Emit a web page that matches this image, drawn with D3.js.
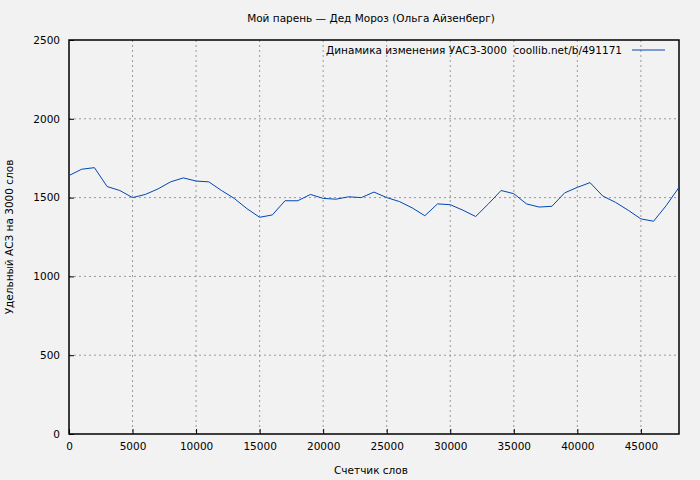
<!DOCTYPE html><html><head><meta charset="utf-8"><script src="https://cdn.jsdelivr.net/npm/d3@7"></script>
<style>body{margin:0;background:#f2f2f2}svg{font-family:"DejaVu Sans";font-size:10.5px}</style></head><body><svg width="700" height="480"></svg>
<script>
const words=[0,1000,2000,3000,4000,5000,6000,7000,8000,9000,10000,11000,12000,13000,14000,15000,16000,17000,18000,19000,20000,21000,22000,23000,24000,25000,26000,27000,28000,29000,30000,31000,32000,33000,34000,35000,36000,37000,38000,39000,40000,41000,42000,43000,44000,45000,46000,47000,48000];
const uasz=[1640,1680,1690,1570,1545,1500,1520,1555,1600,1625,1605,1600,1545,1495,1430,1375,1390,1480,1480,1520,1495,1490,1505,1500,1535,1500,1475,1435,1385,1460,1455,1420,1380,1460,1545,1525,1460,1440,1445,1530,1565,1595,1510,1470,1420,1365,1350,1450,1565];
const xTicks=[0,5000,10000,15000,20000,25000,30000,35000,40000,45000];
const yTicks=[0,500,1000,1500,2000,2500];
const svg=d3.select("svg");
const x=d3.scaleLinear().domain([0,48000]).range([69,679]);
const y=d3.scaleLinear().domain([0,2500]).range([434,40]);
svg.append("rect").attr("width",700).attr("height",480).attr("fill","#f2f2f2");
const g=svg.append("g");
xTicks.slice(1).forEach(t=>g.append("line").attr("x1",x(t)).attr("x2",x(t)).attr("y1",40).attr("y2",434).attr("stroke","#999").attr("stroke-dasharray","2,3"));
yTicks.slice(1,-1).forEach(t=>g.append("line").attr("x1",69).attr("x2",679).attr("y1",y(t)).attr("y2",y(t)).attr("stroke","#999").attr("stroke-dasharray","2,3"));
svg.append("rect").attr("x",69).attr("y",40).attr("width",610).attr("height",394).attr("fill","none").attr("stroke","#000").attr("stroke-width",1.5);
const xa=svg.append("g").attr("transform","translate(0,434)").call(d3.axisBottom(x).tickValues(xTicks).tickSize(-5).tickPadding(9).tickFormat(d3.format("d")));
const ya=svg.append("g").attr("transform","translate(69,0)").call(d3.axisLeft(y).tickValues(yTicks).tickSize(-5).tickPadding(9).tickFormat(d3.format("d")));
[xa,ya].forEach(a=>{a.select(".domain").remove();a.selectAll("text").attr("font-family","DejaVu Sans").attr("font-size",10.5).attr("fill","#000");});
svg.append("path").datum(words.map((w,i)=>[w,uasz[i]])).attr("fill","none").attr("stroke","#0047b3").attr("stroke-width",1)
 .attr("d",d3.line().x(d=>x(d[0])).y(d=>y(d[1])));
svg.append("text").attr("x",371).attr("y",22).attr("text-anchor","middle").text("Мой парень — Дед Мороз (Ольга Айзенберг)");
svg.append("text").attr("x",371).attr("y",474).attr("text-anchor","middle").text("Счетчик слов");
svg.append("text").attr("transform","translate(13,237) rotate(-90)").attr("text-anchor","middle").text("Удельный АСЗ на 3000 слов");
svg.append("text").attr("x",622).attr("y",54).attr("text-anchor","end").attr("xml:space","preserve").text("Динамика изменения УАСЗ-3000  coollib.net/b/491171");
svg.append("line").attr("x1",632).attr("x2",665).attr("y1",50).attr("y2",50).attr("stroke","#0047b3");
</script></body></html>
